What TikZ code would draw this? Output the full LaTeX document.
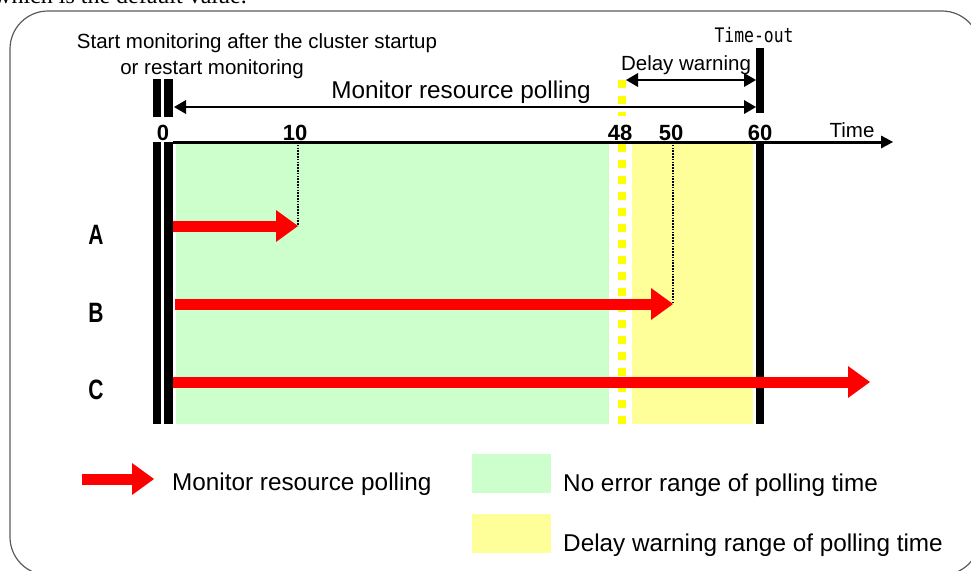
\documentclass[tikz,border=0pt]{standalone}
\usepackage{fontspec}
\setmainfont{Liberation Sans}
\newfontfamily\serifface{Liberation Serif}
\newfontfamily\narrowface[FakeStretch=0.75]{Liberation Sans}
\newfontfamily\monoface[FakeStretch=0.82]{DejaVu Sans Mono}
\usepackage{tikz}
\usetikzlibrary{arrows.meta, positioning}
\definecolor{noerr}{HTML}{CCFFCC}
\definecolor{warnfill}{HTML}{FFFF99}
\definecolor{pollred}{HTML}{FF0000}
\definecolor{markyellow}{HTML}{FFFF00}
\definecolor{framegray}{HTML}{5A5A5A}
\tikzset{
  txt/.style={inner sep=0pt, font=\fontsize{20.5}{24}\selectfont},
  bigtxt/.style={inner sep=0pt, font=\fontsize{24.3}{28}\selectfont},
  ticklab/.style={inner sep=0pt, anchor=base, font=\fontsize{22}{26}\selectfont\bfseries},
  rowlab/.style={inner sep=0pt, anchor=base, font=\fontsize{28}{32}\selectfont\narrowface\bfseries},
  bar/.style={fill=black, draw=none},
  axis/.style={-{Triangle[length=12pt, width=13pt, line width=0pt]}, line width=3pt},
  span/.style={{Triangle[length=12pt, width=14pt, line width=0pt]}-{Triangle[length=12pt, width=14pt, line width=0pt]}, line width=2.5pt},
  poll/.style={-{Triangle[length=22pt, width=32pt, line width=0pt]}, line width=11pt, pollred},
  guide/.style={line width=1.6pt, dash pattern=on 1.6pt off 1.2pt},
  mark48/.style={markyellow, line width=8pt, dash pattern=on 8pt off 8pt},
  swatch/.style={minimum width=79pt, minimum height=39pt, inner sep=0pt, anchor=north west},
}

\begin{document}
\begin{tikzpicture}[x=1pt, y=-1pt]
\useasboundingbox (0,0) rectangle (971,570);
\draw[framegray, line width=1.2pt, rounded corners=38pt] (10,11) rectangle (980,575);
\node[anchor=base west, inner sep=0pt, font=\fontsize{24}{28}\selectfont\serifface] (prevline) at (-6,3) {which is the default value.};

% time positions
\coordinate (o) at (173,142);
\coordinate (t10) at (298,142);
\coordinate (t48) at (622,142);
\coordinate (t50) at (673,142);
\coordinate (t60) at (760,142);
\coordinate (tend) at (893,142);

% ranges
\fill[noerr] (176,143) rectangle (609,424);
\fill[warnfill] (632,143) rectangle (753,424);
\draw[mark48] (t48 |- 0,80) -- (t48 |- 0,116);
\draw[mark48] (t48 |- 0,144) -- (t48 |- 0,425);

% start and time-out bars
\fill[bar] (153,79) rectangle (161,117);
\fill[bar] (164,79) rectangle (173,117);
\fill[bar] (153,142) rectangle (161,424);
\fill[bar] (164,142) rectangle (173,424);
\fill[bar] (756,48) rectangle (764,113);
\fill[bar] (756,143) rectangle (764,424);

\draw[axis] (o) -- (tend);
\node[txt, anchor=base] (timelab) at (852,137) {Time};
\node[ticklab] (lab0) at (163,140) {0};
\node[ticklab] (lab10) at (295,140) {10};
\node[ticklab] (lab48) at (620,140) {48};
\node[ticklab] (lab50) at (671,140) {50};
\node[ticklab] (lab60) at (760,140) {60};

% top annotations
\node[txt, anchor=base] (startlab) at (257,48) {Start monitoring after the cluster startup};
\node[txt, anchor=base] (restartlab) at (212,74) {or restart monitoring};
\node[inner sep=0pt, anchor=base, font=\fontsize{20}{24}\selectfont\monoface] (timeout) at (754,42) {Time-out};
\node[txt, anchor=base] (delaylab) at (686,70) {Delay warning};
\node[bigtxt, anchor=base] (polllab) at (461,98) {Monitor resource polling};
\coordinate (pollL) at (174,107);
\coordinate (pollR) at (756,107);
\coordinate (delayL) at (626,80);
\coordinate (delayR) at (756,80);
\draw[span] (pollL) -- (pollR);
\draw[span] (delayL) -- (delayR);

% polling rows
\node[rowlab] (labA) at (96,244) {A};
\node[rowlab] (labB) at (96,322) {B};
\node[rowlab] (labC) at (96,399) {C};
\coordinate (rA) at (173,226);
\coordinate (rB) at (175,304);
\coordinate (rC) at (173,382);
\coordinate (cEnd) at (870,382);
\draw[guide] (t10) -- (t10 |- rA);
\draw[guide] (t50) -- (t50 |- rB);
\draw[poll] (rA) -- (t10 |- rA);
\draw[poll] (rB) -- (t50 |- rB);
\draw[poll] (rC) -- (cEnd);

% legend
\coordinate (legL) at (82,479);
\coordinate (legR) at (154,479);
\draw[poll] (legL) -- (legR);
\node[bigtxt, anchor=base west] (legpoll) at (172,490) {Monitor resource polling};
\node[swatch, fill=noerr] (legok) at (472,454) {};
\node[swatch, fill=warnfill] (legwarn) at (472,514) {};
\node[bigtxt, anchor=base west] (legoktxt) at (563,491) {No error range of polling time};
\node[bigtxt, anchor=base west] (legwarntxt) at (563,551) {Delay warning range of polling time};
\end{tikzpicture}
\end{document}
